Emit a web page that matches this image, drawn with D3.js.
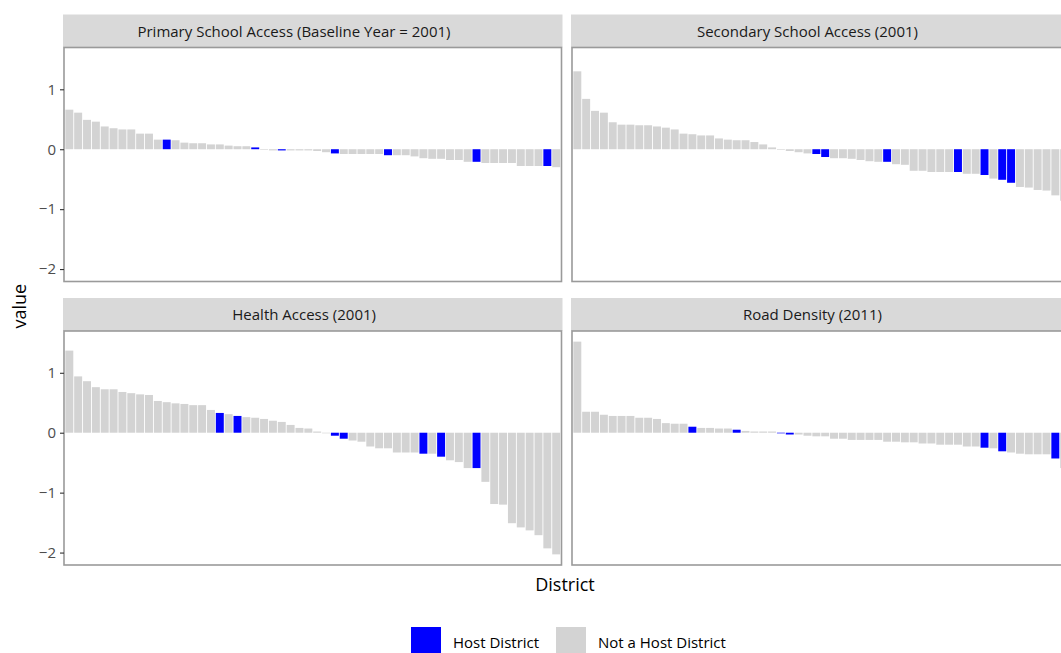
<!DOCTYPE html>
<html>
<head>
<meta charset="utf-8">
<script src="https://cdn.jsdelivr.net/npm/d3@7"></script>
<style>
  body { margin: 0; background: #fff; }
  svg { display: block; font-family: "Open Sans", sans-serif; }
</style>
</head>
<body>
<svg id="plot" width="1061" height="653"></svg>
<script>
// facet titles, in facet_wrap order
const facetTitles = [
  "Primary School Access (Baseline Year = 2001)",
  "Secondary School Access (2001)",
  "Health Access (2001)",
  "Road Density (2011)"
];

// values per district, already sorted high -> low inside each facet
const primaryValues = [0.66, 0.61, 0.49, 0.46, 0.38, 0.35, 0.33, 0.33, 0.26, 0.26,
  0.16, 0.16, 0.15, 0.11, 0.10, 0.10, 0.08, 0.08, 0.06, 0.05,
  0.05, 0.03, -0.01, -0.02, -0.02, -0.02, -0.02, -0.02, -0.03, -0.05,
  -0.07, -0.08, -0.08, -0.08, -0.08, -0.08, -0.10, -0.10, -0.10, -0.12,
  -0.15, -0.16, -0.16, -0.18, -0.18, -0.21, -0.21, -0.23, -0.23, -0.23,
  -0.23, -0.28, -0.28, -0.28, -0.28, -0.30];

const secondaryValues = [1.30, 0.84, 0.64, 0.61, 0.45, 0.41, 0.41, 0.40, 0.40, 0.38,
  0.36, 0.33, 0.26, 0.25, 0.23, 0.23, 0.18, 0.16, 0.15, 0.15,
  0.12, 0.08, 0.03, -0.01, -0.03, -0.05, -0.07, -0.08, -0.13, -0.15,
  -0.15, -0.16, -0.18, -0.20, -0.21, -0.21, -0.25, -0.26, -0.36, -0.36,
  -0.38, -0.38, -0.38, -0.38, -0.41, -0.41, -0.43, -0.49, -0.51, -0.56,
  -0.63, -0.64, -0.68, -0.69, -0.77, -0.86];

const healthValues = [1.37, 0.94, 0.86, 0.76, 0.725, 0.725, 0.68, 0.66, 0.64, 0.63,
  0.53, 0.51, 0.49, 0.48, 0.46, 0.46, 0.38, 0.33, 0.31, 0.28,
  0.26, 0.25, 0.23, 0.20, 0.18, 0.13, 0.08, 0.07, 0.02, -0.01,
  -0.05, -0.10, -0.13, -0.15, -0.23, -0.26, -0.26, -0.33, -0.33, -0.33,
  -0.35, -0.35, -0.40, -0.46, -0.49, -0.59, -0.59, -0.82, -1.19, -1.20,
  -1.51, -1.58, -1.63, -1.71, -1.93, -2.03];

const roadValues = [1.52, 0.35, 0.35, 0.30, 0.28, 0.28, 0.28, 0.25, 0.25, 0.23,
  0.16, 0.15, 0.15, 0.10, 0.08, 0.08, 0.07, 0.07, 0.05, 0.03,
  0.02, 0.02, 0.02, -0.01, -0.03, -0.03, -0.05, -0.06, -0.06, -0.10,
  -0.10, -0.12, -0.12, -0.12, -0.12, -0.15, -0.15, -0.16, -0.16, -0.18,
  -0.18, -0.20, -0.20, -0.20, -0.23, -0.23, -0.25, -0.26, -0.31, -0.33,
  -0.35, -0.36, -0.36, -0.36, -0.43, -0.59];

// rank (1-based) of the host districts in each facet
const primaryHosts = [12, 22, 25, 31, 37, 47, 55];
const secondaryHosts = [28, 29, 36, 44, 47, 49, 50];
const healthHosts = [18, 20, 31, 32, 41, 43, 47];
const roadHosts = [14, 19, 24, 25, 47, 49, 55];

const yTicks = [1, 0, -1, -2];
const legendLabels = ["Host District", "Not a Host District"];
const legendColors = ["#0000FF", "#D3D3D3"];

function render() {
  const svg = d3.select("#plot");

  const seriesList = [primaryValues, secondaryValues, healthValues, roadValues];
  const hostList = [primaryHosts, secondaryHosts, healthHosts, roadHosts];

  // panel geometry
  const colX = [64, 572];
  const rowY = [47.5, 331];
  const panelW = 497.5;
  const panelH = 234;
  const stripH = 33;

  // shared y scale with ggplot-like 5% expansion
  const all = seriesList.flat();
  const lo = Math.min(0, d3.min(all)), hi = Math.max(0, d3.max(all));
  const pad = (hi - lo) * 0.05;
  const y = d3.scaleLinear().domain([lo - pad, hi + pad]).range([panelH, 0]);

  const color = d3.scaleOrdinal().domain(legendLabels).range(legendColors);

  seriesList.forEach((values, k) => {
    const px = colX[k % 2];
    const py = rowY[Math.floor(k / 2)];
    const data = values.map((v, i) => ({
      rank: i + 1,
      value: v,
      type: hostList[k].includes(i + 1) ? legendLabels[0] : legendLabels[1]
    }));

    const x = d3.scaleBand()
      .domain(data.map(d => d.rank))
      .range([0, panelW])
      .paddingInner(0.1)
      .paddingOuter(0.15);

    // strip
    svg.append("rect")
      .attr("x", px - 1).attr("y", py - stripH)
      .attr("width", panelW + 2).attr("height", stripH)
      .attr("fill", "#D9D9D9");

    const label = svg.append("text")
      .attr("y", py - stripH + 22)
      .attr("text-anchor", "middle")
      .attr("font-size", 15)
      .attr("fill", "#1A1A1A")
      .text(facetTitles[k]);
    // the reference strip labels sit a bit left of centre, proportional to length
    const w = label.node().getComputedTextLength();
    label.attr("x", px + panelW / 2 - 0.06 * w);

    const g = svg.append("g").attr("transform", `translate(${px},${py})`);

    g.selectAll("rect.bar")
      .data(data)
      .enter()
      .append("rect")
      .attr("class", "bar")
      .attr("x", d => x(d.rank))
      .attr("width", x.bandwidth())
      .attr("y", d => Math.min(y(d.value), y(0)))
      .attr("height", d => Math.abs(y(d.value) - y(0)))
      .attr("fill", d => color(d.type));

    g.append("rect")
      .attr("width", panelW).attr("height", panelH)
      .attr("fill", "none")
      .attr("stroke", "#9A9A9A")
      .attr("stroke-width", 1.6);

    // y axis only on the left column
    if (k % 2 === 0) {
      const axis = g.append("g")
        .call(d3.axisLeft(y).tickValues(yTicks).tickSize(4).tickPadding(4)
          .tickFormat(d => d < 0 ? "\u2212" + Math.abs(d) : d));
      axis.select(".domain").remove();
      axis.selectAll(".tick line").attr("stroke", "#333").attr("stroke-width", 1.1);
      axis.selectAll(".tick text")
        .attr("fill", "#4D4D4D")
        .attr("font-size", 15)
        .attr("font-family", "Open Sans, sans-serif");
    }
  });

  // axis titles
  svg.append("text")
    .attr("x", 565).attr("y", 591)
    .attr("text-anchor", "middle")
    .attr("font-size", 18)
    .text("District");

  svg.append("text")
    .attr("transform", `translate(26,${(rowY[0] + rowY[1] + panelH) / 2}) rotate(-90)`)
    .attr("text-anchor", "middle")
    .attr("font-size", 18)
    .text("value");

  // legend
  const legendX = [411, 556];
  const lg = svg.append("g");
  legendLabels.forEach((lab, i) => {
    lg.append("rect")
      .attr("x", legendX[i]).attr("y", 627)
      .attr("width", 30).attr("height", 30)
      .attr("fill", color(lab));
    lg.append("text")
      .attr("x", legendX[i] + 42).attr("y", 648)
      .attr("font-size", 15)
      .text(lab);
  });
}

render();
</script>
</body>
</html>
